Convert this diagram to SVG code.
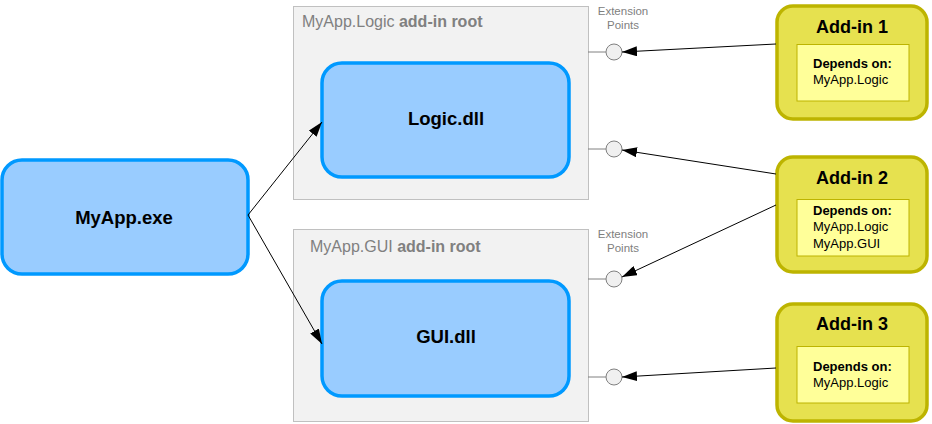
<svg xmlns="http://www.w3.org/2000/svg" width="932" height="424" viewBox="0 0 932 424">
<style>
text{font-family:"Liberation Sans",Arial,sans-serif}
.cont{fill:#f2f2f2;stroke:#c0c0c0;stroke-width:1}
.dll{fill:#99ccff;stroke:#0099ff;stroke-width:3.5}
.addin{fill:#e6e14f;stroke:#bdb400;stroke-width:3.5}
.inner{fill:#ffff99;stroke:#bdb400;stroke-width:1}
.ep{fill:#f0f0f0;stroke:#808080;stroke-width:1}
.epl{stroke:#808080;stroke-width:1}
.glbl{fill:#808080;font-size:16px}
.eptxt{fill:#808080;font-size:11.5px;text-anchor:middle}
.big{font-size:18.5px;font-weight:bold;text-anchor:middle;fill:#000}
.ttl{font-size:18px;font-weight:bold;text-anchor:middle;fill:#000}
.dep{font-size:13px;font-weight:bold;fill:#000}
.mod{font-size:13px;fill:#000}
.conn{stroke:#000;stroke-width:1;fill:none;marker-end:url(#arr)}
</style>
<defs>
<marker id="arr" viewBox="0 0 15 10" refX="15" refY="5" markerWidth="15" markerHeight="10" markerUnits="userSpaceOnUse" orient="auto">
<path d="M0,0 L15,5 L0,10 z" fill="#000"/>
</marker>
</defs>
<rect width="932" height="424" fill="#fff"/>
<g id="logic-root">
<rect class="cont" x="293.5" y="6.5" width="295" height="193"/>
<text class="glbl" x="302" y="27">MyApp.Logic <tspan font-weight="bold">add-in root</tspan></text>
<text class="eptxt" x="623" y="15">Extension</text>
<text class="eptxt" x="623" y="28.5">Points</text>
<line class="epl" x1="588" y1="52" x2="606" y2="52"/>
<circle class="ep" cx="614" cy="52" r="8"/>
<line class="epl" x1="588" y1="149" x2="606" y2="149"/>
<circle class="ep" cx="614" cy="149" r="8"/>
</g>
<g id="logic-dll">
<rect class="dll" x="322" y="63" width="247" height="114" rx="20"/>
<text class="big" x="446" y="125">Logic.dll</text>
</g>
<g id="gui-root">
<rect class="cont" x="293.5" y="229.5" width="295" height="192"/>
<text class="glbl" x="310" y="252">MyApp.GUI <tspan font-weight="bold">add-in root</tspan></text>
<text class="eptxt" x="623" y="238">Extension</text>
<text class="eptxt" x="623" y="251.5">Points</text>
<line class="epl" x1="588" y1="279" x2="606" y2="279"/>
<circle class="ep" cx="614" cy="279" r="8"/>
<line class="epl" x1="588" y1="377" x2="606" y2="377"/>
<circle class="ep" cx="614" cy="377" r="8"/>
</g>
<g id="gui-dll">
<rect class="dll" x="322" y="281" width="247" height="115" rx="20"/>
<text class="big" x="446" y="343">GUI.dll</text>
</g>
<g id="myapp-exe">
<rect class="dll" x="2" y="160" width="246" height="114" rx="20"/>
<text class="big" x="124" y="224">MyApp.exe</text>
</g>
<g id="addin1">
<rect class="addin" x="777" y="6" width="150" height="113" rx="16"/>
<text class="ttl" x="852" y="33">Add-in 1</text>
<rect class="inner" x="797" y="44.5" width="112" height="56.5"/>
<text class="dep" x="813" y="68">Depends on:</text>
<text class="mod" x="813" y="84">MyApp.Logic</text>
</g>
<g id="addin2">
<rect class="addin" x="777" y="157" width="150" height="115" rx="16"/>
<text class="ttl" x="852" y="184">Add-in 2</text>
<rect class="inner" x="797" y="199.5" width="112" height="56.5"/>
<text class="dep" x="813" y="215">Depends on:</text>
<text class="mod" x="813" y="231">MyApp.Logic</text>
<text class="mod" x="813" y="248">MyApp.GUI</text>
</g>
<g id="addin3">
<rect class="addin" x="777" y="304" width="150" height="117" rx="16"/>
<text class="ttl" x="852" y="330">Add-in 3</text>
<rect class="inner" x="797" y="346.5" width="112" height="56.5"/>
<text class="dep" x="813" y="371">Depends on:</text>
<text class="mod" x="813" y="387">MyApp.Logic</text>
</g>
<g id="connectors">
<path class="conn" d="M248,215 L322,122"/>
<path class="conn" d="M248,215 L322,344"/>
<path class="conn" d="M776,44 L622,52"/>
<path class="conn" d="M776,174 L622,150"/>
<path class="conn" d="M776,205 L622,277"/>
<path class="conn" d="M776,368 L622,377"/>
</g>
</svg>
